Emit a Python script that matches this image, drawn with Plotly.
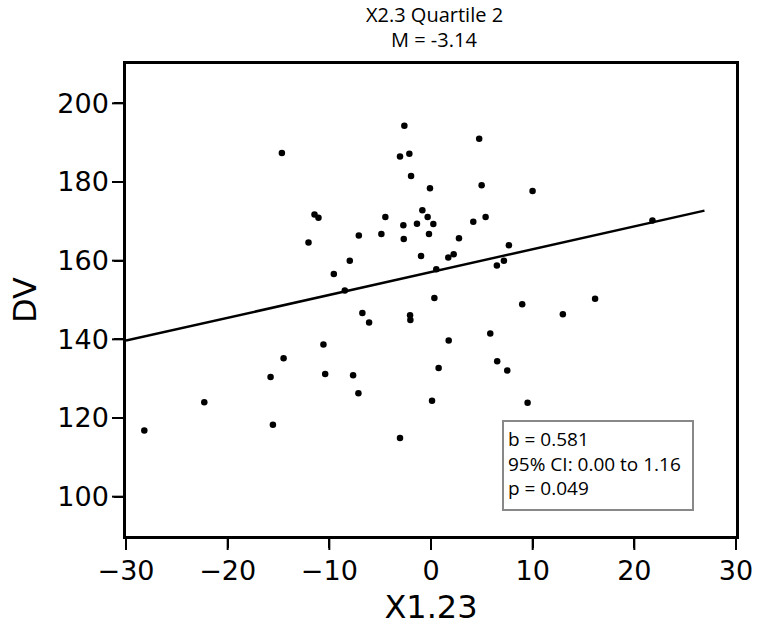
import plotly.graph_objects as go

# ---- data ----
x_vals = [-28.2, -22.3, -15.55, -15.78, -14.5, -14.67, -12.05, -11.46, -11.07, -10.58,
          -10.41, -9.56, -8.48, -7.99, -7.66, -7.14, -7.1, -6.75, -6.09, -4.88,
          -4.49, -3.05, -3.05, -2.72, -2.68, -2.62, -2.13, -2.06, -2.03, -1.96,
          -1.38, -0.98, -0.85, -0.33, -0.2, -0.1, 0.1, 0.23, 0.33, 0.52,
          0.75, 1.70, 1.74, 2.23, 2.75, 4.16, 4.74, 4.98, 5.37, 5.83,
          6.48, 6.51, 7.17, 7.5, 7.66, 8.97, 9.5, 9.99, 12.97, 16.14, 21.78]
y_vals = [116.8, 124.0, 118.3, 130.4, 135.2, 187.4, 164.6, 171.75, 170.9, 138.7,
          131.2, 156.6, 152.4, 160.0, 130.9, 126.3, 166.4, 146.7, 144.3, 166.8,
          171.1, 186.5, 114.9, 169.0, 165.5, 194.3, 187.2, 146.1, 144.9, 181.5,
          169.4, 161.2, 172.8, 171.1, 166.8, 178.4, 124.4, 169.3, 150.5, 157.8,
          132.7, 160.8, 139.7, 161.6, 165.7, 169.9, 191.0, 179.2, 171.1, 141.5,
          158.8, 134.4, 160.0, 132.1, 163.9, 148.9, 123.9, 177.7, 146.4, 150.3, 170.2]

slope = 0.581
intercept = 157.1
line_x_range = [-30, 26.9]

x_ticks = [-30, -20, -10, 0, 10, 20, 30]
y_ticks = [100, 120, 140, 160, 180, 200]
x_range = [-30, 30]
y_range = [90, 210]

title_lines = ["X2.3 Quartile 2", "M = -3.14"]
stats_lines = ["b = 0.581", "95% CI: 0.00 to 1.16", "p = 0.049"]

# ---- figure ----
fig = go.Figure()
line_y = [intercept + slope * v for v in line_x_range]
fig.add_trace(go.Scatter(x=line_x_range, y=line_y, mode="lines",
                         line=dict(color="black", width=2.5), hoverinfo="skip"))
fig.add_trace(go.Scatter(x=x_vals, y=y_vals, mode="markers",
                         marker=dict(color="black", size=6.5)))

W, H = 766, 626
ml, mr, mt, mb = 126, 30, 64, 90
TICK_LEN = 14

axis_common = dict(showgrid=False, zeroline=False, showline=True, linecolor="black",
                   linewidth=2.5, mirror=True, ticks="outside", ticklen=9,
                   tickwidth=2, tickcolor="black", automargin=False,
                   tickfont=dict(family="DejaVu Sans", size=27, color="black"))

fig.update_layout(
    width=W, height=H,
    margin=dict(l=ml, r=mr, t=mt, b=mb),
    paper_bgcolor="white", plot_bgcolor="white",
    showlegend=False,
    xaxis=dict(range=x_range, tickvals=x_ticks,
               title=dict(text="X1.23", font=dict(family="DejaVu Sans", size=32, color="black"),
                          standoff=15),
               **axis_common),
    yaxis=dict(range=y_range, tickvals=y_ticks,
               title=dict(text="DV", font=dict(family="DejaVu Sans", size=32, color="black"),
                          standoff=12),
               **axis_common),
)

# full-length outside tick marks (labels sit closer than plotly's default gap)
for v in x_ticks:
    p = (v - x_range[0]) / (x_range[1] - x_range[0])
    fig.add_shape(type="line", xref="paper", yref="paper", x0=p, x1=p,
                  ysizemode="pixel", yanchor=0, y0=0, y1=-TICK_LEN,
                  line=dict(color="black", width=2))
for v in y_ticks:
    p = (v - y_range[0]) / (y_range[1] - y_range[0])
    fig.add_shape(type="line", xref="paper", yref="paper", y0=p, y1=p,
                  xsizemode="pixel", xanchor=0, x0=0, x1=-TICK_LEN,
                  line=dict(color="black", width=2))

plot_h = H - mt - mb
def py_to_paper(py):
    return (H - mb - py) / plot_h

# title lines
for txt, py in zip(title_lines, [14, 40]):
    fig.add_annotation(text=txt, x=0.505, xref="paper", y=py_to_paper(py), yref="paper",
                       xanchor="center", yanchor="middle", showarrow=False,
                       font=dict(family="Open Sans", size=20, color="black"))

# stats box
fig.add_shape(type="rect", xref="paper", yref="paper",
              x0=(503 - ml) / (W - ml - mr), x1=(693 - ml) / (W - ml - mr),
              y0=py_to_paper(510), y1=py_to_paper(421),
              line=dict(color="#888888", width=2), fillcolor="white", layer="above")
fig.add_annotation(text="<br>".join(stats_lines), x=(506 - ml) / (W - ml - mr), xref="paper",
                   y=py_to_paper(463), yref="paper", align="left",
                   xanchor="left", yanchor="middle", showarrow=False,
                   font=dict(family="Open Sans", size=19, color="black"))

fig.write_html("out.html")
